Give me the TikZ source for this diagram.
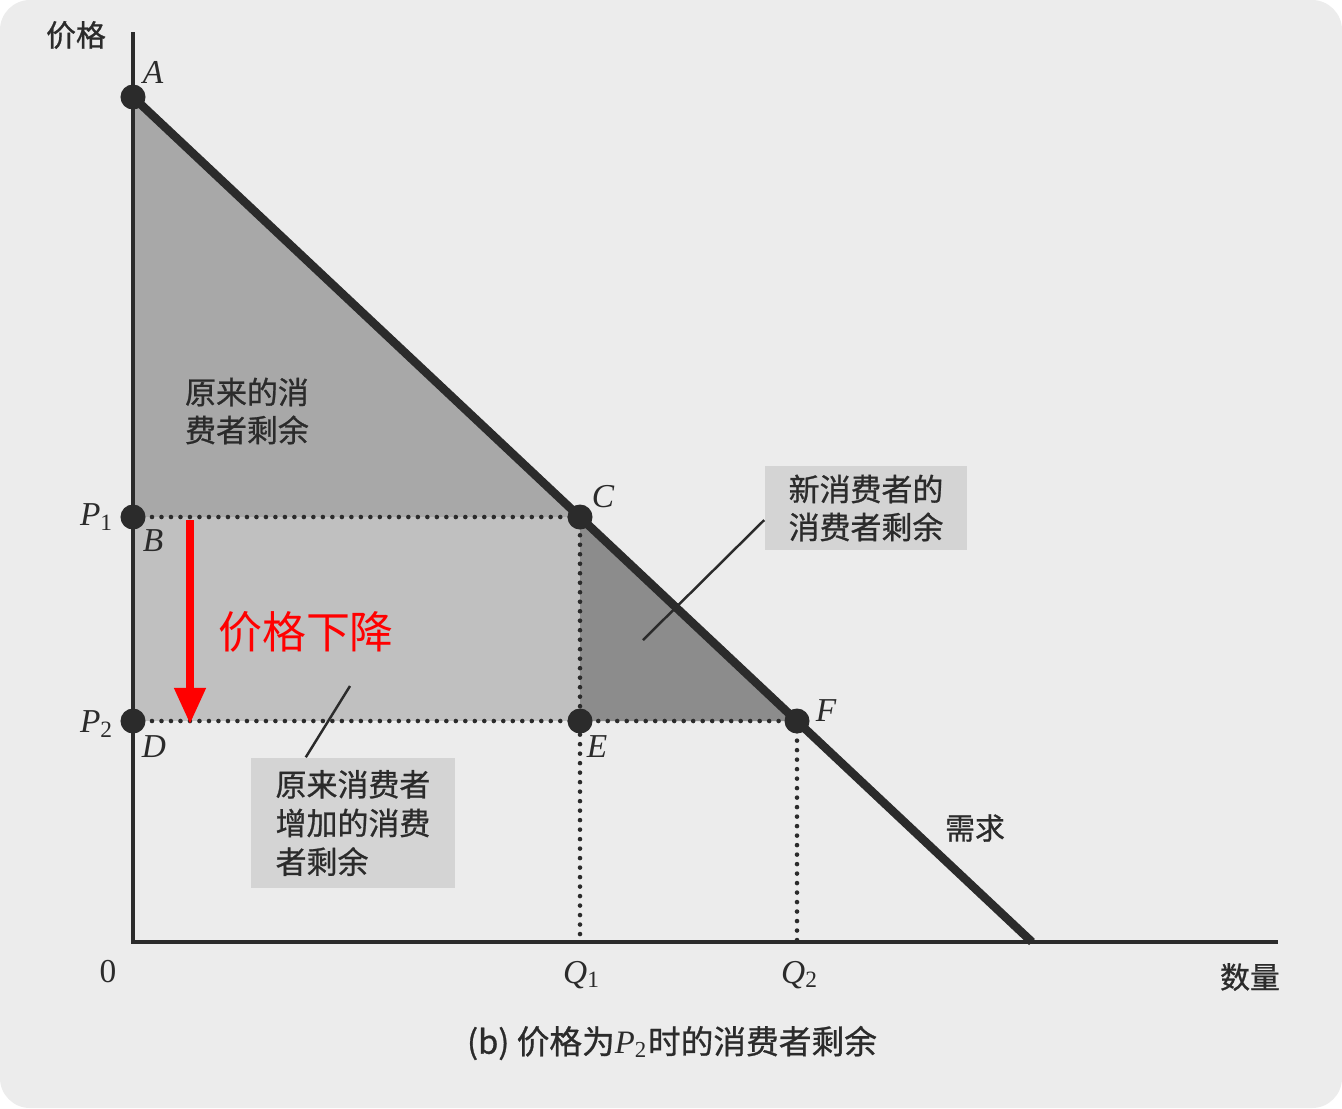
\documentclass[tikz,border=0pt]{standalone}
\usepackage{fontspec}
\setmainfont{Liberation Serif}
\newfontfamily\cjk{Noto Sans CJK SC}
\newfontfamily\cjkb{Noto Sans CJK SC}[FakeBold=0.8]
\usetikzlibrary{positioning,arrows.meta}
\definecolor{paper}{HTML}{ECECEC}
\definecolor{surA}{HTML}{A8A8A8}
\definecolor{surB}{HTML}{C0C0C0}
\definecolor{surC}{HTML}{8C8C8C}
\definecolor{boxgray}{HTML}{D4D4D4}
\definecolor{ink}{HTML}{2B2B2B}
\newcommand{\lsub}[1]{\textsubscript{\upshape #1}}
\tikzset{
  pt/.style={font=\fontsize{9.5}{11}\selectfont\itshape, text=ink},
  zh/.style={font=\cjkb\fontsize{8.8}{10.8}\selectfont, text=ink, align=left},
  surbox/.style={zh, fill=boxgray, inner sep=0pt},
  dotline/.style={line width=1.3pt, line cap=round, dash pattern=on 0pt off 2.7pt, ink},
  leader/.style={line width=0.7pt, ink},
}
\begin{document}
\begin{tikzpicture}[x=0.01cm, y=-0.01cm]
  % papier
  \fill[white] (0,0) rectangle (1342,1108);
  \fill[paper, rounded corners=0.3cm] (0,0) rectangle (1342,1108);

  % punkte
  \coordinate (O) at (133,942);
  \coordinate (A) at (133,97);
  \coordinate (B) at (133,517);
  \coordinate (C) at (580,517);
  \coordinate (D) at (133,721);
  \coordinate (E) at (580,721);
  \coordinate (F) at (797,721);
  \coordinate (Q1) at (580,942);
  \coordinate (Q2) at (797,942);
  \coordinate (Z) at (1032,942);

  % flaechen
  \fill[surA] (A) -- (C) -- (B) -- cycle;
  \fill[surB] (B) -- (C) -- (E) -- (D) -- cycle;
  \fill[surC] (C) -- (F) -- (E) -- cycle;

  % achsen
  \draw[line width=1.2pt, ink] (133,32) -- (O) -- (1278,942);
  \draw[dotline] (B) -- (C) -- (Q1);
  \draw[dotline] (D) -- (F) -- (Q2);
  % nachfrage
  \draw[line width=2.4pt, ink] (A) -- (Z);
  \foreach \p in {A,B,C,D,E,F}
    \fill[ink] (\p) circle (0.125cm);

  % beschriftung
  \node[zh, font=\cjkb\fontsize{8.5}{10}\selectfont] (ylab) at (76,35) {价格};
  \node[pt] (lA) at (153,72) {A};
  \node[pt] (lP1) at (97,517) {P\lsub{1}};
  \node[pt] (lB) at (153,541) {B};
  \node[pt] (lC) at (603,497) {C};
  \node[pt] (lP2) at (97,724) {P\lsub{2}};
  \node[pt] (lD) at (154,747) {D};
  \node[pt] (lE) at (597,747) {E};
  \node[pt] (lF) at (826,711) {F};
  \node[pt, font=\fontsize{9.5}{11}\selectfont] (l0) at (108,972) {0};
  \node[pt] (lQ1) at (582,975) {Q\lsub{1}};
  \node[pt] (lQ2) at (800,975) {Q\lsub{2}};
  \node[zh, font=\cjkb\fontsize{8.5}{10}\selectfont] (xlab) at (1250,977) {数量};
  \node[zh, font=\cjkb\fontsize{8.5}{10}\selectfont] (dem) at (975,828) {需求};

  \node[zh] (old) at (247,411) {原来的消\\费者剩余};
  \node[surbox, minimum width=2.02cm, minimum height=0.83cm] (new) at (866,508) {新消费者的\\消费者剩余};
  \coordinate (newend) at (643,640);
  \draw[leader] ([yshift=-0.12cm]new.west) -- (newend);
  \node[surbox, minimum width=2.03cm, minimum height=1.3cm, font=\cjkb\fontsize{8.8}{11}\selectfont] (gain) at (353,823) {原来消费者\\增加的消费\\者剩余};
  \coordinate (gainend) at (350,686);
  \draw[leader] ([xshift=0.55cm]gain.north west) -- (gainend);

  % preis sinkt
  \coordinate (drop0) at (190,520);
  \coordinate (drop1) at (190,724);
  \draw[red, line width=2.1pt, -{Triangle[length=0.36cm, width=0.3cm]}] (drop0) -- (drop1);
  \node[font=\cjk\fontsize{12.5}{14}\selectfont, text=red] (drop) at (306,632) {价格下降};

  \node[zh, font=\cjkb\fontsize{9.3}{11}\selectfont] (cap) at (672,1043) {(b) 价格为{\rmfamily\itshape P}{\rmfamily\lsub{2}}时的消费者剩余};
\end{tikzpicture}
\end{document}
